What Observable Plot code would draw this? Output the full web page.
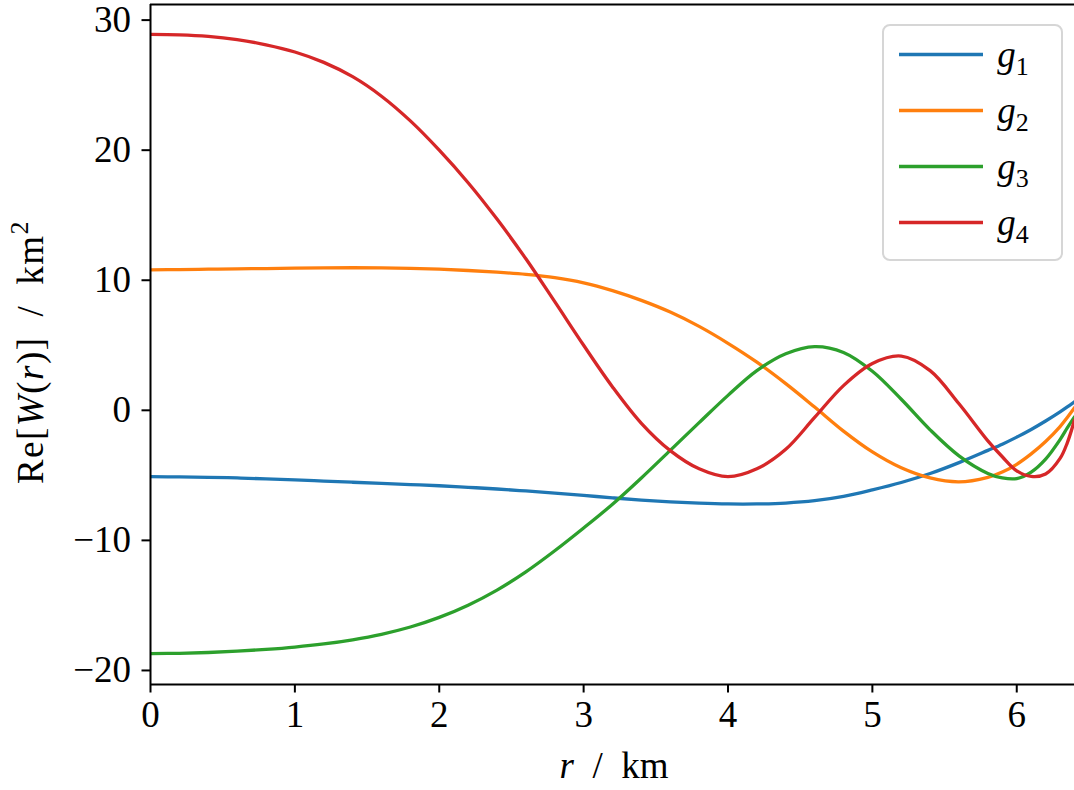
<!DOCTYPE html>
<html>
<head>
<meta charset="utf-8">
<script src="https://cdn.jsdelivr.net/npm/d3@7"></script>
<script src="https://cdn.jsdelivr.net/npm/@observablehq/plot@0.6"></script>
<style>
  html, body { margin: 0; padding: 0; background: #fff; }
  #chart svg { display: block; }
</style>
</head>
<body>
<div id="chart"></div>
<script>
// Radius samples (km)
const r = [0, 0.2, 0.4, 0.6, 0.8, 1.0, 1.2, 1.4, 1.6, 1.8, 2.0, 2.2, 2.4, 2.6, 2.8,
           3.0, 3.2, 3.4, 3.6, 3.8, 4.0, 4.2, 4.4, 4.6, 4.8, 5.0, 5.2, 5.4, 5.6, 5.8,
           5.9, 6.0, 6.1, 6.2, 6.3, 6.35, 6.4];

// Re[W(r)] (km^2) for each g_i
const g1 = [-5.1, -5.12, -5.15, -5.2, -5.27, -5.35, -5.44, -5.53, -5.62, -5.71, -5.8, -5.92, -6.05, -6.2, -6.36,
            -6.54, -6.73, -6.9, -7.04, -7.14, -7.2, -7.2, -7.13, -6.95, -6.62, -6.12, -5.55, -4.86, -4.02, -3.08,
            -2.6, -2.06, -1.47, -0.82, -0.12, 0.26, 0.66];
const g2 = [10.8, 10.82, 10.85, 10.88, 10.9, 10.93, 10.95, 10.96, 10.95, 10.92, 10.85, 10.75, 10.62, 10.45, 10.2,
            9.8, 9.2, 8.45, 7.55, 6.45, 5.15, 3.7, 2.05, 0.25, -1.6, -3.2, -4.42, -5.2, -5.5, -5.15,
            -4.75, -4.15, -3.35, -2.4, -1.25, -0.55, 0.2];
const g3 = [-18.7, -18.68, -18.62, -18.52, -18.38, -18.2, -17.96, -17.64, -17.22, -16.66, -15.92, -14.98, -13.82, -12.42, -10.8,
            -9.05, -7.22, -5.2, -3.08, -0.95, 1.15, 3.05, 4.35, 4.9, 4.45, 3.0, 0.85, -1.5, -3.5, -4.85,
            -5.2, -5.25, -4.75, -3.75, -2.25, -1.35, -0.5];
const g4 = [28.9, 28.87, 28.75, 28.5, 28.1, 27.55, 26.75, 25.65, 24.15, 22.25, 20.0, 17.5, 14.7, 11.65, 8.35,
            5.0, 1.8, -1.0, -3.1, -4.5, -5.1, -4.5, -3.0, -0.55, 1.9, 3.6, 4.17, 3.05, 0.5, -2.35,
            -3.57, -4.65, -5.08, -4.9, -3.7, -2.5, -0.75];

const seriesNames = ["g1", "g2", "g3", "g4"];
const seriesSubs = ["1", "2", "3", "4"];
const seriesValues = [g1, g2, g3, g4];

// Axis ticks and extents
const xTicks = [0, 1, 2, 3, 4, 5, 6];
const yTicks = [-20, -10, 0, 10, 20, 30];
const xDomain = [0, 6.4];
const yDomain = [-21.08, 31.2];

const palette = ["#1f77b4", "#ff7f0e", "#2ca02c", "#d62728"];

const rows = seriesNames.flatMap((name, i) =>
  r.map((rv, j) => ({r: rv, w: seriesValues[i][j], series: name}))
);

const minus = d => (d < 0 ? "\u2212" + Math.abs(d) : String(d));

const chart = Plot.plot({
  width: 1074,
  height: 790,
  marginLeft: 150,
  marginRight: 0,
  marginTop: 4,
  marginBottom: 106,
  style: {
    fontFamily: "'Liberation Serif', 'Times New Roman', serif",
    fontSize: "37px",
    color: "black",
    background: "white",
    overflow: "visible"
  },
  x: {domain: xDomain},
  y: {domain: yDomain},
  color: {domain: seriesNames, range: palette},
  marks: [
    Plot.line(rows, {x: "r", y: "w", stroke: "series", z: "series", strokeWidth: 3.3, curve: "catmull-rom", clip: true}),
    Plot.ruleX([xDomain[0]], {stroke: "black", strokeWidth: 2}),
    Plot.ruleY(yDomain, {stroke: "black", strokeWidth: 2}),
    Plot.axisX({ticks: xTicks, tickSize: 8.5, tickPadding: 8, strokeWidth: 2, label: null, tickFormat: d => String(d)}),
    Plot.axisY({ticks: yTicks, tickSize: 8.5, tickPadding: 11, strokeWidth: 2, label: null, tickFormat: minus})
  ]
});

document.getElementById("chart").append(chart);

const svg = d3.select(chart);

// x-axis title: r / km
const xt = svg.append("text")
  .attr("x", 614).attr("y", 778)
  .attr("text-anchor", "middle")
  .attr("fill", "black")
  .style("font-size", "37px");
xt.append("tspan").attr("font-style", "italic").text("r");
xt.append("tspan").text("\u2002/\u2002km");

// y-axis title: Re[W(r)] / km^2
const yt = svg.append("text")
  .attr("transform", "translate(43,352) rotate(-90)")
  .attr("text-anchor", "middle")
  .attr("fill", "black")
  .style("font-size", "37px")
  .style("letter-spacing", "1.5px");
yt.append("tspan").text("Re[");
yt.append("tspan").attr("font-style", "italic").text("W");
yt.append("tspan").text("(");
yt.append("tspan").attr("font-style", "italic").text("r");
yt.append("tspan").text(")]\u2002/\u2002km");
yt.append("tspan").attr("dy", -15).style("font-size", "26px").text("2");

// Legend box in the upper right corner
const lg = svg.append("g");
lg.append("rect")
  .attr("x", 883).attr("y", 25).attr("width", 179).attr("height", 235)
  .attr("rx", 7)
  .attr("fill", "white").attr("fill-opacity", 0.8)
  .attr("stroke", "#d6d6d6").attr("stroke-width", 2);
seriesNames.forEach((name, i) => {
  const cy = 54.5 + 56 * i;
  lg.append("line")
    .attr("x1", 899).attr("x2", 983).attr("y1", cy).attr("y2", cy)
    .attr("stroke", palette[i]).attr("stroke-width", 3.3);
  const t = lg.append("text")
    .attr("x", 1013).attr("y", cy + 12.5)
    .attr("fill", "black")
    .style("font-size", "37px");
  t.append("tspan").attr("font-style", "italic").text("g");
  t.append("tspan").attr("dy", 8).style("font-size", "26px").text(seriesSubs[i]);
});
</script>
</body>
</html>
